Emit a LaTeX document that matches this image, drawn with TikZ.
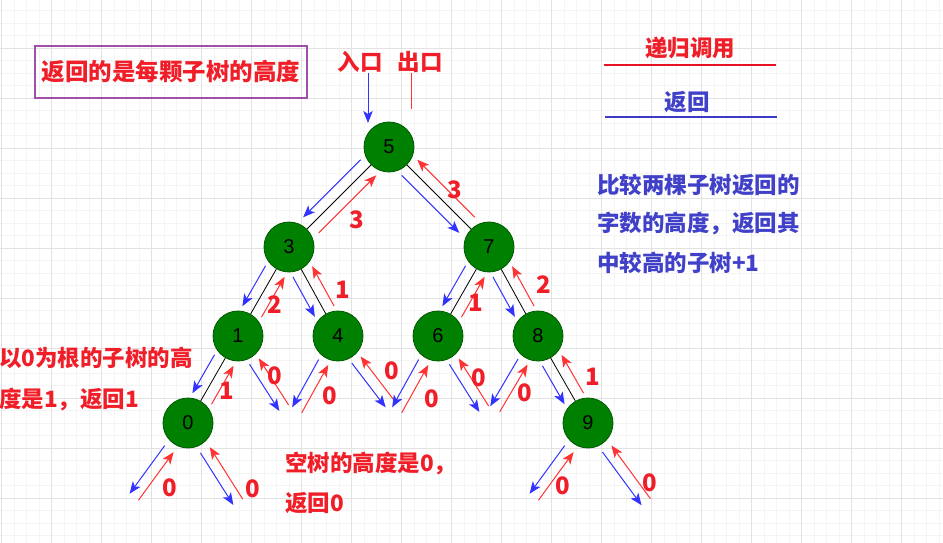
\documentclass[tikz,border=0pt]{standalone}
\usepackage{fontspec}
\setmainfont{Liberation Sans}
\newfontfamily\cjk{Noto Sans CJK SC}
\usetikzlibrary{calc,arrows.meta}
\definecolor{gridmaj}{HTML}{E2E2E2}
\definecolor{gridmin}{HTML}{F4F4F4}
\definecolor{nodegreen}{HTML}{008000}
\definecolor{nodedark}{HTML}{005A00}
\definecolor{arrblue}{HTML}{3333FF}
\definecolor{arrred}{HTML}{FF3333}
\definecolor{txtred}{HTML}{F01E28}
\definecolor{txtblue}{HTML}{4040C8}
\definecolor{legred}{HTML}{E81123}
\definecolor{legblue}{HTML}{3B3BC4}
\definecolor{boxpurple}{HTML}{A04FAA}
\newcommand\tw[5]{%
  \path ($(#1.center)!#3!(#2.center)$) coordinate (ta)
        ($(#2.center)!#4!(#1.center)$) coordinate (tb);
  \draw[dn] ($(ta)!#5!-90:(tb)$) -- ($(tb)!#5!90:(ta)$);
  \draw[upr] ($(tb)!#5!-90:(ta)$) -- ($(ta)!#5!90:(tb)$);
}
\tikzset{
  minorline/.style={draw=gridmin, line width=0.8pt},
  majorline/.style={draw=gridmaj, line width=0.9pt},
  tip/.style={-{Stealth[length=12pt,width=9.5pt,inset=3pt]}},
  dn/.style={draw=arrblue, line width=1pt, tip},
  upr/.style={draw=arrred, line width=1pt, tip},
  edge/.style={draw=black, line width=0.8pt},
  tnode/.style={circle, fill=nodegreen, draw=nodedark, line width=0.8pt, minimum size=50pt, inner sep=0pt, font=\fontsize{20}{20}\selectfont},
  lbl/.style={text=txtred, inner sep=0pt, font=\cjk\bfseries\fontsize{24}{24}\selectfont},
  rnote/.style={text=txtred, inner sep=0pt, anchor=west, font=\cjk\bfseries\fontsize{22.5}{22.5}\selectfont},
  bnote/.style={text=txtblue, inner sep=0pt, anchor=west, font=\cjk\bfseries\fontsize{22.5}{22.5}\selectfont},
}
\begin{document}
\begin{tikzpicture}[x=1pt,y=-1pt]
\useasboundingbox (0,0) rectangle (943,543);
\fill[white] (0,0) rectangle (943,543);
% grid
\begin{scope}
\clip (0,0) rectangle (943,543);
\foreach \i in {0,...,76} {
  \pgfmathsetmacro\xx{1.7+12.5*\i}
  \draw[minorline] (\xx,0) -- (\xx,543);
}
\foreach \j in {0,...,44} {
  \pgfmathsetmacro\yy{-1.7+12.5*\j}
  \draw[minorline] (0,\yy) -- (943,\yy);
}
\foreach \i in {0,...,19} {
  \pgfmathsetmacro\xx{1.7+50*\i}
  \draw[majorline] (\xx,0) -- (\xx,543);
}
\foreach \j in {0,...,11} {
  \pgfmathsetmacro\yy{-1.7+50*\j}
  \draw[majorline] (0,\yy) -- (943,\yy);
}
\end{scope}

% nodes
\node[tnode] (n5) at (389,147) {5};
\node[tnode] (n3) at (289,247) {3};
\node[tnode] (n7) at (489,247) {7};
\node[tnode] (n1) at (238,336) {1};
\node[tnode] (n4) at (338,336) {4};
\node[tnode] (n6) at (438,336) {6};
\node[tnode] (n8) at (538,336) {8};
\node[tnode] (n0) at (188,423) {0};
\node[tnode] (n9) at (588,423) {9};

% null children
\coordinate (z1r) at (284,408);
\coordinate (z4l) at (297,410);
\coordinate (z4r) at (390,404);
\coordinate (z6l) at (397,410);
\coordinate (z6r) at (484,409);
\coordinate (z8l) at (495,409);
\coordinate (z0l) at (134,497);
\coordinate (z0r) at (238,502);
\coordinate (z9l) at (534,497);
\coordinate (z9r) at (646,502);

% tree edges
\foreach \a/\b in {n5/n3,n5/n7,n3/n1,n3/n4,n7/n6,n7/n8,n1/n0,n8/n9}
  \draw[edge] (\a) -- (\b);

% call / return arrows
\tw{n5}{n3}{29pt}{31pt}{11pt}
\tw{n5}{n7}{29pt}{31pt}{11pt}
\tw{n3}{n1}{28pt}{28pt}{11pt}
\tw{n3}{n4}{28pt}{28pt}{11pt}
\tw{n7}{n6}{28pt}{28pt}{11pt}
\tw{n7}{n8}{28pt}{28pt}{11pt}
\tw{n1}{n0}{28pt}{28pt}{11pt}
\tw{n8}{n9}{28pt}{28pt}{11pt}
\tw{n1}{z1r}{30pt}{0pt}{5.5pt}
\tw{n4}{z4l}{30pt}{0pt}{5.5pt}
\tw{n4}{z4r}{30pt}{0pt}{5.5pt}
\tw{n6}{z6l}{30pt}{0pt}{5.5pt}
\tw{n6}{z6r}{30pt}{0pt}{5.5pt}
\tw{n8}{z8l}{30pt}{0pt}{5.5pt}
\tw{n0}{z0l}{32pt}{0pt}{5.5pt}
\tw{n0}{z0r}{32pt}{0pt}{5.5pt}
\tw{n9}{z9l}{32pt}{0pt}{5.5pt}
\tw{n9}{z9r}{32pt}{0pt}{5.5pt}

% edge labels
\node[lbl] (l53) at (357,220) {3};
\node[lbl] (l57) at (455,190) {3};
\node[lbl] (l31) at (275,305) {2};
\node[lbl] (l34) at (343,290) {1};
\node[lbl] (l76) at (476,303) {1};
\node[lbl] (l78) at (544,285) {2};
\node[lbl] (l10) at (227,391) {1};
\node[lbl] (l89) at (593,377) {1};
\node[lbl] (l1r) at (275,376) {0};
\node[lbl] (l4l) at (330,396) {0};
\node[lbl] (l4r) at (392,371) {0};
\node[lbl] (l6l) at (432,399) {0};
\node[lbl] (l6r) at (479,378) {0};
\node[lbl] (l8l) at (525,393) {0};
\node[lbl] (l0l) at (170,488) {0};
\node[lbl] (l0r) at (253,489) {0};
\node[lbl] (l9l) at (563,486) {0};
\node[lbl] (l9r) at (650,483) {0};

% title box
\node[draw=boxpurple, line width=2pt, minimum width=272pt, minimum height=52pt, inner sep=0pt,
      text=txtred, font=\cjk\bfseries\fontsize{23.5}{23.5}\selectfont] (title) at (171,72) {返回的是每颗子树的高度};

% entry / exit
\node[text=txtred, inner sep=0pt, font=\cjk\bfseries\fontsize{22.5}{22.5}\selectfont] (in) at (360,62) {入口};
\node[text=txtred, inner sep=0pt, font=\cjk\bfseries\fontsize{22.5}{22.5}\selectfont] (out) at (420,62) {出口};
\coordinate (inA) at (368,73);
\coordinate (inB) at (368,123);
\coordinate (outA) at (411,109);
\coordinate (outB) at (411,73);
\draw[dn] (inA) -- (inB);
\draw[draw=arrred, line width=1pt] (outA) -- (outB);

% legend
\node[text=txtred, inner sep=0pt, font=\cjk\bfseries\fontsize{22.5}{22.5}\selectfont] (legc) at (690,48) {递归调用};
\coordinate (lr1) at (604,65);
\coordinate (lr2) at (776,65);
\draw[draw=legred, line width=2.6pt] (lr1) -- (lr2);
\node[text=txtblue, inner sep=0pt, font=\cjk\bfseries\fontsize{22.5}{22.5}\selectfont] (legr) at (687,102) {返回};
\coordinate (lb1) at (605,117);
\coordinate (lb2) at (777,117);
\draw[draw=legblue, line width=2.6pt] (lb1) -- (lb2);

% notes
\node[bnote] (r1) at (597,185) {比较两棵子树返回的};
\node[bnote] (r2) at (597,224) {字数的高度，返回其};
\node[bnote] (r3) at (597,263) {中较高的子树+1};
\node[rnote] (ln1) at (-1,358) {以0为根的子树的高};
\node[rnote] (ln2) at (-1,400) {度是1，返回1};
\node[rnote] (b1) at (285,463) {空树的高度是0，};
\node[rnote] (b2) at (285,503) {返回0};
\end{tikzpicture}
\end{document}
